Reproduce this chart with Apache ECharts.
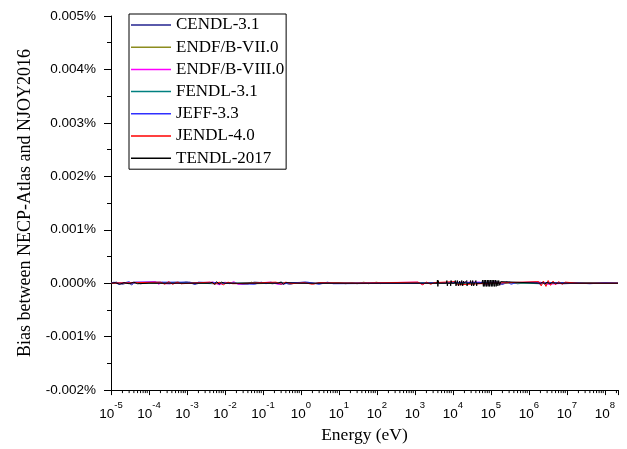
<!DOCTYPE html>
<html>
<head>
<meta charset="utf-8">
<script src="https://cdn.jsdelivr.net/npm/echarts@6/dist/echarts.min.js"></script>
<style>html,body{margin:0;padding:0;background:#fff}#c{width:627px;height:449px}</style>
</head>
<body>
<div id="c"></div>
<script>
// ---- data (bias in %) ----
const seriesNames = ['CENDL-3.1', 'ENDF/B-VII.0', 'ENDF/B-VIII.0', 'FENDL-3.1', 'JEFF-3.3', 'JENDL-4.0', 'TENDL-2017'];
const seriesColors = ['#23238f', '#8c8c1e', '#ff00ff', '#008080', '#3030ff', '#ff0000', '#000000'];

const cendlE = [1e-5, 1.4e-5, 2e-5, 2.8e-5, 3.5e-5, 4.2e-5, 6e-5, 1e-4, 2e-4, 3.5e-4, 6e-4, 1e-3, 1.6e-3, 2.5e-3, 4e-3, 8e-3, 1.5e-2, 3e-2, 6e-2, 1e-1, 1.8e-1, 3e-1, 5e-1, 8e-1, 1.3, 2.2, 3.5, 6, 1e3, 1e4, 1.2e5, 2e5, 3e5, 5e5, 1e6, 3e6, 8e6, 2e7, 5e7, 1e8, 2.2e8];
const cendlBias = [0, 2e-5, -2e-5, 1e-5, -3e-5, 2e-5, -1e-5, 1e-5, 0, -1e-5, 1e-5, 2e-5, -2e-5, 1e-5, 0, -1e-5, 1e-5, -2e-5, 2e-5, 1e-5, -1e-5, 2e-5, -2e-5, 1e-5, 2e-5, -1e-5, 1e-5, 0, 0, 0, 1e-5, -2e-5, 2e-5, -1e-5, 1e-5, 1e-5, -1e-5, 0, 0, 0, 0];

const endf7E = [1e-5, 5e-5, 2e-4, 6e-4, 7e-4, 9e-4, 3e-3, 1e-2, 4e-2, 5e-2, 6e-2, 0.2, 1, 3, 10, 15, 22, 30, 45, 60, 80, 100, 120, 150, 1e3, 1e5, 1e6, 1e7, 2.2e8];
const endf7Bias = [0, 1e-5, 0, 2e-5, -1e-5, 2e-5, 0, 1e-5, -2e-5, 2e-5, -1e-5, 0, 1e-5, -1e-5, 1e-5, -1e-5, 1e-5, -1e-5, 2e-5, -1e-5, 1e-5, 2e-5, -1e-5, 1e-5, 0, 0, 0, 0, 0];

const endf8E = [1e-5, 1.5e-4, 1.8e-4, 2.2e-4, 2.8e-4, 5e-3, 7e-3, 1e-2, 1.3e-2, 1.7e-2, 2.2e-2, 0.15, 0.25, 0.4, 1, 10, 1.2e3, 1.5e3, 2e3, 5e4, 8e4, 1.3e5, 1.7e5, 2e5, 2e6, 3e6, 1e7, 2.2e8];
const endf8Bias = [0, 3e-5, -2e-5, 2e-5, -1e-5, 2e-5, -3e-5, 2e-5, -1e-5, 3e-5, -2e-5, 2e-5, -2e-5, 1e-5, 0, 0, 2e-5, -2e-5, 1e-5, 2e-5, -3e-5, 3e-5, -2e-5, 1e-5, 2e-5, -2e-5, 0, 0];

const fendlE = [1e-5, 1e-3, 5e-3, 0.05, 1, 100, 1e4, 1e5, 3e5, 2e6, 5e6, 2.2e8];
const fendlBias = [0, 1e-5, -1e-5, 1e-5, 0, 0, 1e-5, -1e-5, 1e-5, -1e-5, 1e-5, 0];

const jeffE = [1e-5, 1.2e-5, 1.6e-5, 3e-5, 3.6e-5, 4.5e-5, 1.2e-3, 1.6e-3, 2e-3, 0.06, 0.09, 0.12, 0.16, 0.3, 0.6, 1.5, 3, 5, 7, 1e3, 1.5e5, 2e5, 2.6e5, 3.4e5, 4.5e5, 1.5e6, 2e6, 2.5e6, 1.5e7, 4e7, 1e8, 2.2e8];
const jeffBias = [0, 2e-5, -2e-5, 3e-5, -2e-5, 2e-5, 2e-5, -2e-5, 2e-5, -2e-5, 2e-5, -1e-5, 2e-5, -2e-5, 1e-5, 2e-5, -2e-5, 2e-5, -1e-5, 0, 2e-5, -2e-5, 3e-5, -2e-5, 1e-5, 2e-5, -2e-5, 1e-5, 1e-5, -1e-5, 1e-5, 0];

const jendlE = [1e-5, 2e-4, 2.6e-4, 3.3e-4, 4.2e-4, 5.5e-4, 7e-4, 4e-3, 5.5e-3, 7e-3, 9e-3, 1.2e-2, 1.6e-2, 2.2e-1, 3e-1, 4e-1, 5.5e-1, 1.2, 2, 3, 30, 1.2e3, 1.6e3, 2e3, 2.6e3, 3.2e3, 1.1e4, 1.3e4, 1e5, 1.8e6, 2.1e6, 2.4e6, 2.8e6, 3.2e6, 3.7e6, 4.3e6, 5e6, 6e6, 7.5e6, 9e6, 2e7, 2.2e8];
const jendlBias = [0, 2e-5, -2e-5, 3e-5, -2e-5, 2e-5, -1e-5, 2e-5, -2e-5, 2e-5, -3e-5, 2e-5, -1e-5, 2e-5, -2e-5, 2e-5, -1e-5, 1e-5, -2e-5, 1e-5, 0, 2e-5, -3e-5, 2e-5, -2e-5, 1e-5, 3e-5, -3e-5, 0, 3e-5, -5e-5, 4e-5, -6e-5, 5e-5, -4e-5, 4e-5, -3e-5, 3e-5, -2e-5, 2e-5, 0, 0];

const tendlE = [1e-5, 1.3e-5, 1.7e-5, 2.2e-5, 3e-5, 4e-5, 5e-5, 1e-4, 4e-3, 4.6e-3, 5.3e-3, 6e-3, 7e-3, 8e-3, 1e-2, 0.25, 0.3, 0.35, 0.4, 1,
  100, 3.8e3, 3.9e3, 4e3, 4.1e3, 4.2e3, 6.7e3, 6.9e3, 7.1e3, 7.3e3,
  8.5e3, 8.7e3, 8.9e3, 9.1e3, 1.1e4, 1.15e4, 1.2e4, 1.3e4, 1.4e4, 1.5e4,
  1.6e4, 1.7e4, 1.8e4, 1.9e4, 2e4, 2.25e4, 2.3e4, 2.35e4, 2.4e4, 2.8e4,
  2.9e4, 3.1e4, 3.3e4, 3.5e4, 3.7e4, 4e4, 4.2e4, 4.3e4, 5.8e4, 6e4,
  6.3e4, 6.6e4, 6.9e4, 7.2e4, 7.6e4, 8e4, 8.4e4, 8.8e4, 9.2e4, 9.7e4,
  1.02e5, 1.07e5, 1.12e5, 1.18e5, 1.24e5, 1.3e5, 1.37e5, 1.44e5, 1.52e5, 1.6e5,
  1.7e5, 1.8e5, 1.9e5, 2e6, 2.3e6, 2.6e6, 3e6, 3.5e6, 4e6, 5e6,
  1e7, 2.2e8];
const tendlBias = [0, 1e-5, -2e-5, 1e-5, -1e-5, 2e-5, -1e-5, 0, 0, 2e-5, -2e-5, 3e-5, -2e-5, 2e-5, 0, 0, 2e-5, -2e-5, 1e-5, 0,
  0, 0, 6e-5, -6e-5, 5e-5, 0, 0, 5e-5, -5e-5, 0,
  0, -5e-5, 5e-5, 0, 0, 5e-5, -5e-5, 5e-5, -5e-5, 4e-5,
  -4e-5, 5e-5, -5e-5, 4e-5, 0, 0, 5e-5, -5e-5, 0, 0,
  5e-5, -5e-5, 5e-5, -5e-5, 0, 5e-5, -5e-5, 0, 0, 6e-5,
  -6e-5, 6e-5, -6e-5, 6e-5, -6e-5, 6e-5, -6e-5, 6e-5, -6e-5, 6e-5,
  -6e-5, 6e-5, -6e-5, 6e-5, -6e-5, 6e-5, -6e-5, 5e-5, -5e-5, 5e-5,
  -4e-5, 3e-5, 0, 0, 2e-5, -2e-5, 2e-5, -1e-5, 1e-5, 0,
  0, 0];

const yTicks = [-0.002, -0.001, 0, 0.001, 0.002, 0.003, 0.004, 0.005];
const xMin = 1e-5, xMax = 2.2e8;

// ---- build ----
const energyArrays = [cendlE, endf7E, endf8E, fendlE, jeffE, jendlE, tendlE];
const biasArrays = [cendlBias, endf7Bias, endf8Bias, fendlBias, jeffBias, jendlBias, tendlBias];

function zip(e, b) {
  const n = Math.min(e.length, b.length);
  const out = [];
  for (let i = 0; i < n; i++) out.push([e[i], b[i]]);
  return out;
}

const lineSeries = seriesNames.map((name, i) => ({
  name: name,
  type: 'line',
  data: zip(energyArrays[i], biasArrays[i]),
  symbol: 'none',
  color: seriesColors[i],
  itemStyle: { color: seriesColors[i] },
  lineStyle: { width: 1, color: seriesColors[i] },
  animation: false,
  z: 2 + i
}));

// minor ticks of the log axis (2..9 x 10^n)
const minorTickE = [];
for (let n = -5; n <= 8; n++) {
  for (let k = 2; k <= 9; k++) {
    const v = k * Math.pow(10, n);
    if (v < xMax) minorTickE.push([v, yTicks[0]]);
  }
}

const minorSeries = {
  type: 'custom',
  name: 'minorTicks',
  data: minorTickE,
  clip: false,
  silent: true,
  animation: false,
  z: 10,
  renderItem: function (params, api) {
    const p = api.coord([api.value(0), api.value(1)]);
    return {
      type: 'line',
      shape: { x1: p[0], y1: p[1], x2: p[0], y2: p[1] + 3 },
      style: { stroke: '#000', lineWidth: 1 }
    };
  }
};

const chart = echarts.init(document.getElementById('c'), null, { renderer: 'canvas' });
chart.setOption({
  backgroundColor: '#fff',
  animation: false,
  grid: { left: 111, right: 9, top: 16, bottom: 56, containLabel: false },
  legend: {
    data: seriesNames,
    orient: 'vertical',
    left: 129,
    top: 14,
    icon: 'rect',
    itemWidth: 40,
    itemHeight: 1.5,
    itemGap: 2.2,
    padding: [1, 2, 1, 2],
    borderColor: '#000',
    borderWidth: 1,
    textStyle: { fontFamily: 'Liberation Serif', fontSize: 17, color: '#000', lineHeight: 20 }
  },
  xAxis: {
    type: 'log',
    logBase: 10,
    min: xMin,
    max: xMax,
    interval: 1,
    name: 'Energy (eV)',
    nameLocation: 'middle',
    nameGap: 35,
    nameTextStyle: { fontFamily: 'Liberation Serif', fontSize: 17.5, color: '#000' },
    axisLine: { show: true, onZero: false, lineStyle: { color: '#000', width: 1 } },
    axisTick: { show: true, inside: false, length: 5, lineStyle: { color: '#000', width: 1 } },
    splitLine: { show: false },
    axisLabel: {
      margin: 10,
      color: '#000',
      formatter: function (v) {
        const lg = Math.log10(v);
        const n = Math.round(lg);
        if (Math.abs(lg - n) > 1e-6) return '';
        return '{b|10}{s|' + n + '}';
      },
      rich: {
        b: { fontFamily: 'Liberation Sans', fontSize: 13.5, color: '#000', lineHeight: 21, verticalAlign: 'bottom' },
        s: { fontFamily: 'Liberation Sans', fontSize: 9.5, color: '#000', lineHeight: 10, verticalAlign: 'top' }
      }
    }
  },
  yAxis: {
    type: 'value',
    min: yTicks[0],
    max: yTicks[yTicks.length - 1],
    interval: 0.001,
    name: 'Bias between NECP-Atlas and NJOY2016',
    nameLocation: 'middle',
    nameGap: 77,
    nameTextStyle: { fontFamily: 'Liberation Serif', fontSize: 18, color: '#000' },
    axisLine: { show: true, lineStyle: { color: '#000', width: 1 } },
    axisTick: { show: true, inside: false, length: 7, lineStyle: { color: '#000', width: 1 } },
    minorTick: { show: true, splitNumber: 2, length: 4, lineStyle: { color: '#000', width: 1 } },
    splitLine: { show: false },
    axisLabel: {
      margin: 15,
      color: '#000',
      fontFamily: 'Liberation Sans',
      fontSize: 13.5,
      formatter: function (v) { return v.toFixed(3) + '%'; }
    }
  },
  series: lineSeries.concat([minorSeries])
});
</script>
</body>
</html>
